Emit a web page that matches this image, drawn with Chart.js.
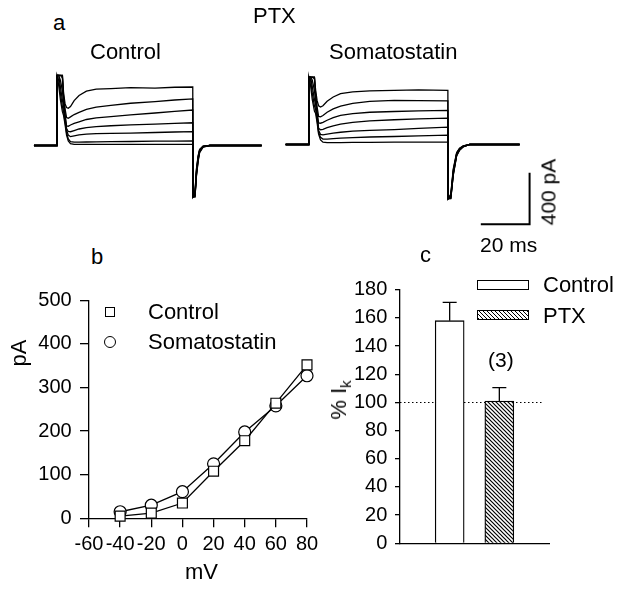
<!DOCTYPE html>
<html>
<head>
<meta charset="utf-8">
<script src="https://cdn.jsdelivr.net/npm/chart.js@4.4.1/dist/chart.umd.min.js"></script>
<style>
  body { margin: 0; background: #fff; }
  #figure { position: relative; width: 624px; height: 591px; overflow: hidden; background: #fff;
            font-family: "Liberation Sans", Arial, sans-serif; color: #000; }
  #figure canvas { position: absolute; }
  .txt { position: absolute; white-space: nowrap; line-height: 1; }
  .rot { position: absolute; white-space: nowrap; line-height: 1; transform: translate(-50%, -50%) rotate(-90deg); }
  .key { position: absolute; box-sizing: border-box; border: 1.3px solid #000; background: #fff; }
</style>
</head>
<body>
<div id="figure">
  <canvas id="trace-control" width="260" height="160" style="left:20px;top:60px"></canvas>
  <canvas id="trace-somato" width="285" height="170" style="left:275px;top:60px"></canvas>
  <canvas id="iv-chart" width="330" height="311" style="left:0px;top:280px"></canvas>
  <canvas id="bar-chart" width="324" height="321" style="left:300px;top:270px"></canvas>
</div>
<script>
// ---- panel a: current traces, time in ms from step onset, current in pA ----
const timeControl = [-9.4, 0, 0, 0.7, 1.4, 2.2, 2.7, 3.3, 3.9, 4.6, 5.5, 7, 9, 12, 16, 22, 30, 40, 48, 55.4,
                     55.5, 56.3, 56.9, 57.6, 58.2, 59.6, 62.4, 83.5];
const tracesControl = [
  [0, 0, 540, 540, 540, 540, 400, 320, 292, 286, 300, 345, 385, 418, 433, 438, 445, 442, 448, 450, -395, -395, -235, -120, -55, -12, 0, 0],
  [0, 0, 540, 540, 540, 540, 380, 280, 215, 210, 220, 238, 255, 278, 296, 308, 325, 338, 350, 358, -395, -395, -228, -112, -50, -10, 0, 0],
  [0, 0, 540, 540, 540, 520, 360, 240, 150, 148, 158, 170, 182, 200, 212, 222, 235, 250, 263, 273, -395, -390, -220, -105, -46, -9, 0, 0],
  [0, 0, 540, 540, 500, 420, 330, 220, 130, 108, 106, 115, 127, 137, 145, 152, 158, 165, 171, 175, -395, -385, -210, -98, -42, -8, 0, 0],
  [0, 0, 540, 540, 450, 350, 300, 200, 120, 80, 68, 74, 82, 88, 92, 94, 96, 100, 104, 106, -395, -380, -200, -92, -38, -7, 0, 0],
  [0, 0, 540, 500, 400, 300, 260, 180, 100, 50, 30, 26, 26, 27, 28, 30, 31, 33, 34, 35, -395, -372, -190, -85, -34, -6, 0, 0],
  [0, 0, 540, 460, 350, 260, 230, 160, 80, 35, 15, 9, 8, 8, 8, 8, 8, 9, 9, 9, -395, -365, -180, -78, -30, -5, 0, 0]
];
const timeSomato = [-9.5, 0, 0, 0.7, 1.4, 2.3, 2.8, 3.4, 4.0, 4.8, 5.8, 7.5, 10, 13, 18, 25, 35, 45, 57.0,
                    57.1, 58.2, 59.2, 60.6, 61.8, 63.3, 66, 86.4];
const tracesSomato = [
  [0, 0, 522, 522, 522, 522, 420, 340, 300, 291, 300, 335, 368, 394, 408, 416, 420, 423, 420, -420, -420, -240, -88, -45, -18, 0, 0],
  [0, 0, 522, 522, 522, 522, 390, 290, 218, 215, 225, 250, 276, 298, 318, 335, 342, 340, 338, -420, -418, -235, -84, -42, -17, 0, 0],
  [0, 0, 522, 522, 522, 510, 370, 250, 168, 165, 172, 188, 208, 226, 240, 250, 256, 260, 265, -420, -414, -228, -80, -40, -16, 0, 0],
  [0, 0, 522, 522, 500, 420, 340, 230, 125, 114, 118, 130, 145, 158, 172, 183, 192, 198, 204, -420, -408, -220, -76, -37, -15, 0, 0],
  [0, 0, 522, 522, 450, 350, 310, 210, 110, 78, 75, 80, 88, 95, 103, 110, 116, 125, 135, -420, -400, -210, -72, -34, -13, 0, 0],
  [0, 0, 522, 500, 400, 300, 270, 190, 95, 55, 42, 42, 45, 49, 54, 58, 62, 67, 73, -420, -392, -200, -67, -31, -12, 0, 0],
  [0, 0, 522, 460, 350, 260, 240, 170, 80, 35, 18, 14, 14, 15, 16, 17, 18, 18, 19, -420, -385, -190, -62, -28, -10, 0, 0]
];
// scale bar: 20 ms by 400 pA
const scaleBarTime = [70.5, 90.5, 90.5];
const scaleBarCurrent = [-619, -619, -219];

// ---- panel b: I-V relation ----
const voltages = [-40, -20, 0, 20, 40, 60, 80];
const ivControl = [5, 12, 35, 108, 178, 264, 352];
const ivSomato = [15, 30, 61, 125, 198, 258, 327];
const mvTicks = [-60, -40, -20, 0, 20, 40, 60, 80];
const paTicks = [0, 100, 200, 300, 400, 500];

// ---- panel c: % Ik ----
const barLabels = ['Control', 'PTX'];
const barValues = [158, 101];
const barErrors = [13, 9.5];
const percentTicks = [0, 20, 40, 60, 80, 100, 120, 140, 160, 180];
const refLevel = 100;

const FONT = '"Liberation Sans", Arial, sans-serif';
Chart.defaults.font.family = FONT;
Chart.defaults.color = '#000';
Chart.defaults.animation = false;

document.addEventListener('DOMContentLoaded', function() {
    const fig = document.getElementById('figure');

    function addText(str, x, baseline, size) {
        const el = document.createElement('div');
        el.className = 'txt';
        el.innerHTML = str;
        el.style.left = x + 'px';
        el.style.top = (baseline - 0.8465 * size) + 'px';
        el.style.fontSize = size + 'px';
        fig.appendChild(el);
    }
    function addRotated(str, cx, cy, size) {
        const el = document.createElement('div');
        el.className = 'rot';
        el.innerHTML = str;
        el.style.left = cx + 'px';
        el.style.top = cy + 'px';
        el.style.fontSize = size + 'px';
        fig.appendChild(el);
    }
    function addKey(x, y, w, h, extra) {
        const el = document.createElement('div');
        el.className = 'key';
        el.style.left = x + 'px';
        el.style.top = y + 'px';
        el.style.width = w + 'px';
        el.style.height = h + 'px';
        Object.assign(el.style, extra || {});
        fig.appendChild(el);
    }

    function traceChart(id, times, traces, xRange, yRange) {
        const datasets = traces.map(vals => ({
            data: times.map((t, i) => ({ x: t, y: vals[i] })),
            borderColor: '#000',
            borderWidth: 1.3,
            pointRadius: 0,
            tension: 0,
            fill: false
        }));
        return new Chart(document.getElementById(id), {
            type: 'line',
            data: { datasets: datasets },
            options: {
                responsive: false,
                layout: { padding: 0 },
                plugins: { legend: { display: false }, tooltip: { enabled: false } },
                scales: {
                    x: { type: 'linear', min: xRange[0], max: xRange[1], display: false },
                    y: { type: 'linear', min: yRange[0], max: yRange[1], display: false }
                }
            }
        });
    }

    traceChart('trace-control', timeControl, tracesControl, [-15.1, 91.0], [-573, 657.7]);
    const somatoChart = traceChart('trace-somato', timeSomato, tracesSomato, [-13.6, 102.7], [-657.7, 650]);
    somatoChart.data.datasets.push({
        data: scaleBarTime.map((t, i) => ({ x: t, y: scaleBarCurrent[i] })),
        borderColor: '#000',
        borderWidth: 2,
        pointRadius: 0,
        fill: false
    });
    somatoChart.update();

    // panel b
    const axisGrid = len => ({ display: true, drawOnChartArea: false, drawTicks: true, tickLength: len, color: '#000', lineWidth: 1.3 });
    const axisBorder = { display: true, color: '#000', width: 1.3 };

    new Chart(document.getElementById('iv-chart'), {
        type: 'line',
        data: {
            datasets: [
                {
                    label: 'Control',
                    data: voltages.map((v, i) => ({ x: v, y: ivControl[i] })),
                    borderColor: '#000', borderWidth: 1.3, clip: false,
                    pointStyle: 'rect', pointRadius: 7,
                    pointBackgroundColor: '#fff', pointBorderColor: '#000', pointBorderWidth: 1.2
                },
                {
                    label: 'Somatostatin',
                    data: voltages.map((v, i) => ({ x: v, y: ivSomato[i] })),
                    borderColor: '#000', borderWidth: 1.3, clip: false,
                    pointStyle: 'circle', pointRadius: 6,
                    pointBackgroundColor: '#fff', pointBorderColor: '#000', pointBorderWidth: 1.2
                }
            ]
        },
        options: {
            responsive: false,
            layout: { padding: { left: 0, top: 16.3, right: 23, bottom: 0 } },
            plugins: { legend: { display: false }, tooltip: { enabled: false } },
            scales: {
                x: {
                    type: 'linear', min: -60, max: 80,
                    afterBuildTicks: s => { s.ticks = mvTicks.map(v => ({ value: v })); },
                    afterFit: s => { s.height = 72.7; },
                    ticks: { autoSkip: false, maxRotation: 0, padding: 5, font: { size: 20 } },
                    grid: axisGrid(9),
                    border: axisBorder
                },
                y: {
                    type: 'linear', min: 0, max: 500,
                    afterBuildTicks: s => { s.ticks = paTicks.map(v => ({ value: v })); },
                    afterFit: s => { s.width = 89; },
                    ticks: { padding: 8.3, font: { size: 20 } },
                    grid: axisGrid(9),
                    border: axisBorder
                }
            }
        }
    });

    // panel c
    const barCanvas = document.getElementById('bar-chart');
    const tile = document.createElement('canvas');
    tile.width = 4; tile.height = 4;
    const tg = tile.getContext('2d');
    tg.fillStyle = '#fff'; tg.fillRect(0, 0, 4, 4);
    tg.strokeStyle = '#000'; tg.lineWidth = 1.2;
    tg.beginPath();
    tg.moveTo(-1, -1); tg.lineTo(5, 5);
    tg.moveTo(-1, 3); tg.lineTo(1, 5);
    tg.moveTo(3, -1); tg.lineTo(5, 1);
    tg.stroke();
    const hatch = barCanvas.getContext('2d').createPattern(tile, 'repeat');

    const barExtras = {
        id: 'barExtras',
        beforeDatasetsDraw(chart) {
            const ctx = chart.ctx, y = chart.scales.y, area = chart.chartArea;
            const yRef = Math.round(y.getPixelForValue(refLevel)) + 0.5;
            ctx.save();
            ctx.strokeStyle = '#000';
            ctx.lineWidth = 1;
            ctx.setLineDash([1.5, 2.5]);
            ctx.beginPath();
            ctx.moveTo(area.left, yRef);
            ctx.lineTo(area.right - 6, yRef);
            ctx.stroke();
            ctx.restore();
        },
        afterDatasetsDraw(chart) {
            const ctx = chart.ctx, y = chart.scales.y;
            const meta = chart.getDatasetMeta(0);
            ctx.save();
            ctx.strokeStyle = '#000';
            ctx.lineWidth = 1.3;
            barValues.forEach((v, i) => {
                const bar = meta.data[i + 1];
                const top = y.getPixelForValue(v);
                const tip = y.getPixelForValue(v + barErrors[i]);
                ctx.beginPath();
                ctx.moveTo(bar.x, top);
                ctx.lineTo(bar.x, tip);
                ctx.moveTo(bar.x - 7, tip);
                ctx.lineTo(bar.x + 7, tip);
                ctx.stroke();
            });
            ctx.restore();
        }
    };

    new Chart(barCanvas, {
        type: 'bar',
        data: {
            labels: [''].concat(barLabels, ['']),
            datasets: [{
                data: [null].concat(barValues, [null]),
                backgroundColor: ['#fff', '#fff', hatch, '#fff'],
                borderColor: '#000',
                borderWidth: 1.3,
                barThickness: 29
            }]
        },
        options: {
            responsive: false,
            layout: { padding: { left: 0, top: 18.3, right: 75, bottom: 0 } },
            plugins: { legend: { display: false }, tooltip: { enabled: false } },
            scales: {
                x: {
                    offset: false,
                    afterFit: s => { s.height = 47.7; },
                    ticks: { display: false },
                    grid: { display: false },
                    border: axisBorder
                },
                y: {
                    type: 'linear', min: 0, max: 180,
                    afterBuildTicks: s => { s.ticks = percentTicks.map(v => ({ value: v })); },
                    afterFit: s => { s.width = 100; },
                    ticks: { padding: 7.7, font: { size: 20 } },
                    grid: axisGrid(5),
                    border: axisBorder
                }
            }
        },
        plugins: [barExtras]
    });

    // texts
    addText('a', 53, 30.5, 22);
    addText('PTX', 253, 24, 22);
    addText('Control', 90, 60, 22);
    addText('Somatostatin', 329, 59.5, 22);
    addText('20 ms', 480, 251.7, 21);
    addRotated('400 pA', 547.5, 191.5, 21);

    addText('b', 91, 265, 22);
    addKey(105, 307, 10, 10);
    addText('Control', 148, 320, 22);
    addKey(104, 336, 12, 12, { borderRadius: '50%' });
    addText('Somatostatin', 148, 350, 22);
    addText('mV', 185, 580, 22);
    addRotated('pA', 19, 353, 22);

    addText('c', 420, 263, 22);
    addKey(476.7, 280, 52.6, 10);
    addText('Control', 543, 292.7, 22);
    addKey(476.7, 310, 52.6, 10, { background: 'repeating-linear-gradient(45deg, #000 0 1px, #fff 1px 2.83px)' });
    addText('PTX', 543, 323.3, 22);
    addText('(3)', 488, 366.7, 21);
    addRotated('% I<span style="font-size:15px;position:relative;top:5px">k</span>', 339, 400, 22);
});
</script>
</body>
</html>
